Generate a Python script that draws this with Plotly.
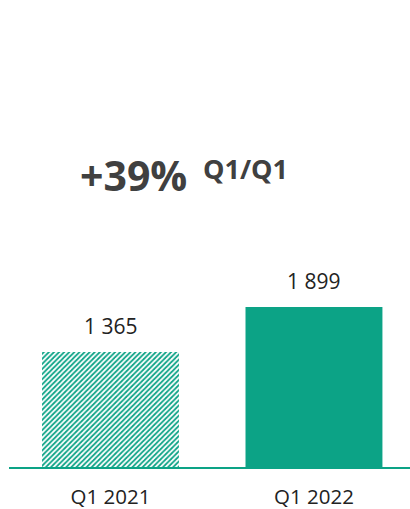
import plotly.graph_objects as go

categories = ["Q1 2021", "Q1 2022"]
values = [1365, 1899]
value_labels = ["1 365", "1 899"]
headline = "+39%"
headline_sup = "Q1/Q1"

TEAL = "#0ca386"
DARK = "#404040"
TXT = "#222222"
FONT = "Open Sans"

fig = go.Figure()
# Q1 2021 - hatched
fig.add_trace(go.Bar(
    x=[0], y=[values[0]], width=0.673,
    marker=dict(
        color="white", line=dict(width=0),
        pattern=dict(shape="/", fgcolor=TEAL, bgcolor="white", size=3.6, solidity=0.5, fillmode="replace"),
    ),
    hoverinfo="skip",
))
# Q1 2022 - solid
fig.add_trace(go.Bar(
    x=[1], y=[values[1]], width=0.673,
    marker=dict(color=TEAL, line=dict(width=0)),
    hoverinfo="skip",
))

annotations = []
for i, (v, lab) in enumerate(zip(values, value_labels)):
    annotations.append(dict(
        x=i, y=v, xref="x", yref="y", text=lab, showarrow=False,
        xanchor="center", yanchor="bottom", yshift=10,
        font=dict(family=FONT, size=21, color=TXT),
    ))
annotations.append(dict(
    xref="paper", yref="paper", x=0.172, y=0.620,
    xanchor="left", yanchor="middle", yshift=2,
    text=f"<b>{headline}</b>", showarrow=False,
    font=dict(family=FONT, size=41, color=DARK),
))
annotations.append(dict(
    xref="paper", yref="paper", x=0.478, y=0.638,
    xanchor="left", yanchor="middle", yshift=1,
    text=f"<b>{headline_sup}</b>", showarrow=False,
    font=dict(family=FONT, size=27, color=DARK),
))

fig.update_layout(
    width=410, height=509,
    margin=dict(l=9, r=0, t=0, b=42),
    paper_bgcolor="white", plot_bgcolor="white",
    showlegend=False,
    barmode="overlay",
    xaxis=dict(
        range=[-0.499, 1.472],
        tickmode="array", tickvals=[0, 1], ticktext=categories,
        tickfont=dict(family=FONT, size=20.5, color=TXT),
        showgrid=False, zeroline=False,
        showline=True, linecolor=TEAL, linewidth=1.5,
        ticks="", ticklabelstandoff=11, automargin=False,
    ),
    yaxis=dict(range=[0, 5543], visible=False, showgrid=False, zeroline=False, automargin=False),
    annotations=annotations,
)

fig.write_html("out.html")
